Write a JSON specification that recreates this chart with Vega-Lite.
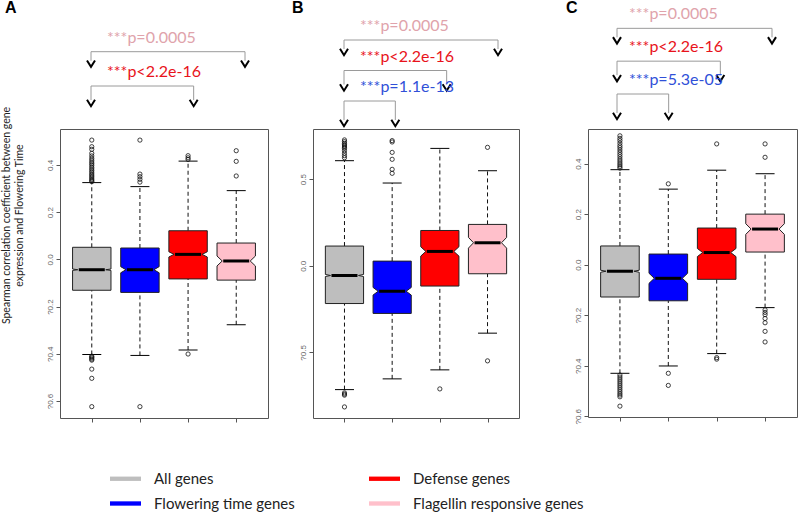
{
  "$schema": "https://vega.github.io/schema/vega-lite/v6.json",
  "background": "white",
  "padding": 0,
  "config": {
    "view": {"stroke": null},
    "axis": {"grid": false, "domain": false, "labelFont": "Liberation Sans", "labelFontSize": 8, "labelColor": "#666666", "tickColor": "#555555", "tickSize": 4, "labelPadding": 2}
  },
  "datasets": {
    "boxes": [
      {"panel": "A", "g": "All genes", "lo": -0.403, "q1": -0.131, "nlo": -0.047, "med": -0.044, "nhi": -0.041, "q3": 0.051, "hi": 0.325},
      {"panel": "A", "g": "Flowering time genes", "lo": -0.407, "q1": -0.140, "nlo": -0.057, "med": -0.044, "nhi": -0.031, "q3": 0.048, "hi": 0.308},
      {"panel": "A", "g": "Defense genes", "lo": -0.384, "q1": -0.083, "nlo": 0.010, "med": 0.021, "nhi": 0.032, "q3": 0.121, "hi": 0.416},
      {"panel": "A", "g": "Flagellin responsive genes", "lo": -0.277, "q1": -0.088, "nlo": -0.028, "med": -0.007, "nhi": 0.014, "q3": 0.069, "hi": 0.291},
      {"panel": "B", "g": "All genes", "lo": -0.715, "q1": -0.218, "nlo": -0.062, "med": -0.056, "nhi": -0.050, "q3": 0.114, "hi": 0.607},
      {"panel": "B", "g": "Flowering time genes", "lo": -0.653, "q1": -0.275, "nlo": -0.169, "med": -0.147, "nhi": -0.125, "q3": 0.027, "hi": 0.478},
      {"panel": "B", "g": "Defense genes", "lo": -0.601, "q1": -0.117, "nlo": 0.056, "med": 0.083, "nhi": 0.110, "q3": 0.204, "hi": 0.678},
      {"panel": "B", "g": "Flagellin responsive genes", "lo": -0.389, "q1": -0.046, "nlo": 0.102, "med": 0.133, "nhi": 0.164, "q3": 0.239, "hi": 0.549},
      {"panel": "C", "g": "All genes", "lo": -0.430, "q1": -0.128, "nlo": -0.030, "med": -0.026, "nhi": -0.022, "q3": 0.074, "hi": 0.376},
      {"panel": "C", "g": "Flowering time genes", "lo": -0.401, "q1": -0.143, "nlo": -0.074, "med": -0.054, "nhi": -0.034, "q3": 0.042, "hi": 0.299},
      {"panel": "C", "g": "Defense genes", "lo": -0.352, "q1": -0.058, "nlo": 0.032, "med": 0.048, "nhi": 0.064, "q3": 0.145, "hi": 0.374},
      {"panel": "C", "g": "Flagellin responsive genes", "lo": -0.170, "q1": 0.050, "nlo": 0.120, "med": 0.141, "nhi": 0.162, "q3": 0.200, "hi": 0.360}
    ],
    "outliers": [
      {"panel": "A", "g": "All genes", "v": 0.505}, {"panel": "A", "g": "All genes", "v": 0.477}, {"panel": "A", "g": "All genes", "v": 0.466}, {"panel": "A", "g": "All genes", "v": 0.449}, {"panel": "A", "g": "All genes", "v": 0.438}, {"panel": "A", "g": "All genes", "v": 0.428}, {"panel": "A", "g": "All genes", "v": 0.42}, {"panel": "A", "g": "All genes", "v": 0.412}, {"panel": "A", "g": "All genes", "v": 0.405}, {"panel": "A", "g": "All genes", "v": 0.398}, {"panel": "A", "g": "All genes", "v": 0.39}, {"panel": "A", "g": "All genes", "v": 0.383}, {"panel": "A", "g": "All genes", "v": 0.376}, {"panel": "A", "g": "All genes", "v": 0.369}, {"panel": "A", "g": "All genes", "v": 0.362}, {"panel": "A", "g": "All genes", "v": 0.356}, {"panel": "A", "g": "All genes", "v": 0.35}, {"panel": "A", "g": "All genes", "v": 0.344}, {"panel": "A", "g": "All genes", "v": 0.338}, {"panel": "A", "g": "All genes", "v": 0.333}, {"panel": "A", "g": "All genes", "v": 0.329},
      {"panel": "A", "g": "All genes", "v": -0.41}, {"panel": "A", "g": "All genes", "v": -0.414}, {"panel": "A", "g": "All genes", "v": -0.418}, {"panel": "A", "g": "All genes", "v": -0.423}, {"panel": "A", "g": "All genes", "v": -0.427}, {"panel": "A", "g": "All genes", "v": -0.465}, {"panel": "A", "g": "All genes", "v": -0.504}, {"panel": "A", "g": "All genes", "v": -0.624},
      {"panel": "A", "g": "Flowering time genes", "v": 0.505}, {"panel": "A", "g": "Flowering time genes", "v": 0.361}, {"panel": "A", "g": "Flowering time genes", "v": 0.35}, {"panel": "A", "g": "Flowering time genes", "v": 0.339}, {"panel": "A", "g": "Flowering time genes", "v": 0.327}, {"panel": "A", "g": "Flowering time genes", "v": -0.624},
      {"panel": "A", "g": "Defense genes", "v": 0.439}, {"panel": "A", "g": "Defense genes", "v": 0.43}, {"panel": "A", "g": "Defense genes", "v": 0.423}, {"panel": "A", "g": "Defense genes", "v": -0.401},
      {"panel": "A", "g": "Flagellin responsive genes", "v": 0.46}, {"panel": "A", "g": "Flagellin responsive genes", "v": 0.415}, {"panel": "A", "g": "Flagellin responsive genes", "v": 0.353},
      {"panel": "B", "g": "All genes", "v": 0.727}, {"panel": "B", "g": "All genes", "v": 0.717}, {"panel": "B", "g": "All genes", "v": 0.707}, {"panel": "B", "g": "All genes", "v": 0.699}, {"panel": "B", "g": "All genes", "v": 0.692}, {"panel": "B", "g": "All genes", "v": 0.685}, {"panel": "B", "g": "All genes", "v": 0.678}, {"panel": "B", "g": "All genes", "v": 0.665}, {"panel": "B", "g": "All genes", "v": 0.65}, {"panel": "B", "g": "All genes", "v": 0.636}, {"panel": "B", "g": "All genes", "v": 0.624}, {"panel": "B", "g": "All genes", "v": -0.734}, {"panel": "B", "g": "All genes", "v": -0.741}, {"panel": "B", "g": "All genes", "v": -0.747}, {"panel": "B", "g": "All genes", "v": -0.815},
      {"panel": "B", "g": "Flowering time genes", "v": 0.723}, {"panel": "B", "g": "Flowering time genes", "v": 0.715}, {"panel": "B", "g": "Flowering time genes", "v": 0.655}, {"panel": "B", "g": "Flowering time genes", "v": 0.615}, {"panel": "B", "g": "Flowering time genes", "v": 0.557}, {"panel": "B", "g": "Flowering time genes", "v": 0.534},
      {"panel": "B", "g": "Defense genes", "v": -0.711},
      {"panel": "B", "g": "Flagellin responsive genes", "v": 0.684}, {"panel": "B", "g": "Flagellin responsive genes", "v": -0.549},
      {"panel": "C", "g": "All genes", "v": 0.51}, {"panel": "C", "g": "All genes", "v": 0.5}, {"panel": "C", "g": "All genes", "v": 0.491}, {"panel": "C", "g": "All genes", "v": 0.481}, {"panel": "C", "g": "All genes", "v": 0.471}, {"panel": "C", "g": "All genes", "v": 0.463}, {"panel": "C", "g": "All genes", "v": 0.454}, {"panel": "C", "g": "All genes", "v": 0.445}, {"panel": "C", "g": "All genes", "v": 0.436}, {"panel": "C", "g": "All genes", "v": 0.427}, {"panel": "C", "g": "All genes", "v": 0.418}, {"panel": "C", "g": "All genes", "v": 0.41}, {"panel": "C", "g": "All genes", "v": 0.402}, {"panel": "C", "g": "All genes", "v": 0.395}, {"panel": "C", "g": "All genes", "v": 0.388}, {"panel": "C", "g": "All genes", "v": 0.382},
      {"panel": "C", "g": "All genes", "v": -0.437}, {"panel": "C", "g": "All genes", "v": -0.445}, {"panel": "C", "g": "All genes", "v": -0.453}, {"panel": "C", "g": "All genes", "v": -0.461}, {"panel": "C", "g": "All genes", "v": -0.469}, {"panel": "C", "g": "All genes", "v": -0.477}, {"panel": "C", "g": "All genes", "v": -0.485}, {"panel": "C", "g": "All genes", "v": -0.493}, {"panel": "C", "g": "All genes", "v": -0.501}, {"panel": "C", "g": "All genes", "v": -0.509}, {"panel": "C", "g": "All genes", "v": -0.516}, {"panel": "C", "g": "All genes", "v": -0.523}, {"panel": "C", "g": "All genes", "v": -0.56},
      {"panel": "C", "g": "Flowering time genes", "v": 0.32}, {"panel": "C", "g": "Flowering time genes", "v": -0.43}, {"panel": "C", "g": "Flowering time genes", "v": -0.478},
      {"panel": "C", "g": "Defense genes", "v": 0.478}, {"panel": "C", "g": "Defense genes", "v": -0.368}, {"panel": "C", "g": "Defense genes", "v": -0.374},
      {"panel": "C", "g": "Flagellin responsive genes", "v": 0.478}, {"panel": "C", "g": "Flagellin responsive genes", "v": 0.425}, {"panel": "C", "g": "Flagellin responsive genes", "v": -0.179}, {"panel": "C", "g": "Flagellin responsive genes", "v": -0.189}, {"panel": "C", "g": "Flagellin responsive genes", "v": -0.198}, {"panel": "C", "g": "Flagellin responsive genes", "v": -0.213}, {"panel": "C", "g": "Flagellin responsive genes", "v": -0.23}, {"panel": "C", "g": "Flagellin responsive genes", "v": -0.264}, {"panel": "C", "g": "Flagellin responsive genes", "v": -0.306}
    ],
    "ann": [
      {"panel": "A", "level": 1, "from": "All genes", "to": "Flagellin responsive genes", "label": "***p=0.0005"},
      {"panel": "A", "level": 2, "from": "All genes", "to": "Defense genes", "label": "***p<2.2e-16"},
      {"panel": "B", "level": 1, "from": "All genes", "to": "Flagellin responsive genes", "label": "***p=0.0005"},
      {"panel": "B", "level": 2, "from": "All genes", "to": "Defense genes", "label": "***p<2.2e-16"},
      {"panel": "B", "level": 3, "from": "All genes", "to": "Flowering time genes", "label": "***p=1.1e-13"},
      {"panel": "C", "level": 1, "from": "All genes", "to": "Flagellin responsive genes", "label": "***p=0.0005"},
      {"panel": "C", "level": 2, "from": "All genes", "to": "Defense genes", "label": "***p<2.2e-16"},
      {"panel": "C", "level": 3, "from": "All genes", "to": "Flowering time genes", "label": "***p=5.3e-05"}
    ]
  },
  "columns": 3,
  "spacing": {"row": 0, "column": 45},
  "bounds": "flush",
  "align": "each",
  "concat": [
    {
      "width": 208, "height": 129,
      "title": {"text": "A", "anchor": "start", "frame": "group", "offset": -16, "dx": -55, "fontSize": 16, "fontWeight": "bold", "font": "Liberation Sans", "color": "#000000"},
      "data": {"name": "ann"},
      "transform": [{"filter": "datum.panel === 'A'"}],
      "encoding": {"y": {"field": "level", "type": "quantitative", "scale": {"domain": [0, 3], "range": [17.4, 120.3], "nice": false, "zero": false}, "axis": null}},
      "layer": [
        {"mark": {"type": "rule", "color": "#9a9a9a", "strokeWidth": 1}, "encoding": {"x": {"field": "from", "type": "nominal", "scale": {"type": "point", "domain": ["All genes", "Flowering time genes", "Defense genes", "Flagellin responsive genes"], "range": [31, 185], "padding": 0}, "axis": null}, "x2": {"field": "to"}}},
        {"mark": {"type": "rule", "color": "#9a9a9a", "strokeWidth": 1, "y2Offset": {"expr": "4 + 5 * datum.level"}}, "encoding": {"x": {"field": "from", "type": "nominal", "scale": {"type": "point", "domain": ["All genes", "Flowering time genes", "Defense genes", "Flagellin responsive genes"], "range": [31, 185], "padding": 0}, "axis": null}, "y2": {"field": "level"}}},
        {"mark": {"type": "rule", "color": "#9a9a9a", "strokeWidth": 1, "y2Offset": {"expr": "4 + 5 * datum.level"}}, "encoding": {"x": {"field": "to", "type": "nominal", "scale": {"type": "point", "domain": ["All genes", "Flowering time genes", "Defense genes", "Flagellin responsive genes"], "range": [31, 185], "padding": 0}, "axis": null}, "y2": {"field": "level"}}},
        {"mark": {"type": "point", "shape": "M-1,-0.8L0,0.8L1,-0.8", "filled": false, "stroke": "#000000", "strokeWidth": 2, "size": 64, "opacity": 1, "yOffset": {"expr": "7 + 5 * datum.level"}}, "encoding": {"x": {"field": "from", "type": "nominal", "scale": {"type": "point", "domain": ["All genes", "Flowering time genes", "Defense genes", "Flagellin responsive genes"], "range": [31, 185], "padding": 0}, "axis": null}}},
        {"mark": {"type": "point", "shape": "M-1,-0.8L0,0.8L1,-0.8", "filled": false, "stroke": "#000000", "strokeWidth": 2, "size": 64, "opacity": 1, "yOffset": {"expr": "7 + 5 * datum.level"}}, "encoding": {"x": {"field": "to", "type": "nominal", "scale": {"type": "point", "domain": ["All genes", "Flowering time genes", "Defense genes", "Flagellin responsive genes"], "range": [31, 185], "padding": 0}, "axis": null}}},
        {"mark": {"type": "text", "align": "left", "baseline": "middle", "dx": 16, "dy": -14, "fontSize": 16, "font": "Lato"}, "encoding": {"x": {"field": "from", "type": "nominal", "scale": {"type": "point", "domain": ["All genes", "Flowering time genes", "Defense genes", "Flagellin responsive genes"], "range": [31, 185], "padding": 0}, "axis": null}, "text": {"field": "label"}, "color": {"field": "to", "type": "nominal", "scale": {"domain": ["Flagellin responsive genes", "Defense genes", "Flowering time genes"], "range": ["#E0A3AB", "#E8131B", "#3050D8"]}, "legend": null}}}
      ]
    },
    {
      "width": 230, "height": 129,
      "title": {"text": "B", "anchor": "start", "frame": "group", "offset": -16, "dx": -21, "fontSize": 16, "fontWeight": "bold", "font": "Liberation Sans", "color": "#000000"},
      "data": {"name": "ann"},
      "transform": [{"filter": "datum.panel === 'B'"}],
      "encoding": {"y": {"field": "level", "type": "quantitative", "scale": {"domain": [0, 3], "range": [9.5, 101], "nice": false, "zero": false}, "axis": null}},
      "layer": [
        {"mark": {"type": "rule", "color": "#9a9a9a", "strokeWidth": 1}, "encoding": {"x": {"field": "from", "type": "nominal", "scale": {"type": "point", "domain": ["All genes", "Flowering time genes", "Defense genes", "Flagellin responsive genes"], "range": [31, 185], "padding": 0}, "axis": null}, "x2": {"field": "to"}}},
        {"mark": {"type": "rule", "color": "#9a9a9a", "strokeWidth": 1, "y2Offset": {"expr": "4 + 5 * datum.level"}}, "encoding": {"x": {"field": "from", "type": "nominal", "scale": {"type": "point", "domain": ["All genes", "Flowering time genes", "Defense genes", "Flagellin responsive genes"], "range": [31, 185], "padding": 0}, "axis": null}, "y2": {"field": "level"}}},
        {"mark": {"type": "rule", "color": "#9a9a9a", "strokeWidth": 1, "y2Offset": {"expr": "4 + 5 * datum.level"}}, "encoding": {"x": {"field": "to", "type": "nominal", "scale": {"type": "point", "domain": ["All genes", "Flowering time genes", "Defense genes", "Flagellin responsive genes"], "range": [31, 185], "padding": 0}, "axis": null}, "y2": {"field": "level"}}},
        {"mark": {"type": "point", "shape": "M-1,-0.8L0,0.8L1,-0.8", "filled": false, "stroke": "#000000", "strokeWidth": 2, "size": 64, "opacity": 1, "yOffset": {"expr": "7 + 5 * datum.level"}}, "encoding": {"x": {"field": "from", "type": "nominal", "scale": {"type": "point", "domain": ["All genes", "Flowering time genes", "Defense genes", "Flagellin responsive genes"], "range": [31, 185], "padding": 0}, "axis": null}}},
        {"mark": {"type": "point", "shape": "M-1,-0.8L0,0.8L1,-0.8", "filled": false, "stroke": "#000000", "strokeWidth": 2, "size": 64, "opacity": 1, "yOffset": {"expr": "7 + 5 * datum.level"}}, "encoding": {"x": {"field": "to", "type": "nominal", "scale": {"type": "point", "domain": ["All genes", "Flowering time genes", "Defense genes", "Flagellin responsive genes"], "range": [31, 185], "padding": 0}, "axis": null}}},
        {"mark": {"type": "text", "align": "left", "baseline": "middle", "dx": 16, "dy": -14, "fontSize": 16, "font": "Lato"}, "encoding": {"x": {"field": "from", "type": "nominal", "scale": {"type": "point", "domain": ["All genes", "Flowering time genes", "Defense genes", "Flagellin responsive genes"], "range": [31, 185], "padding": 0}, "axis": null}, "text": {"field": "label"}, "color": {"field": "to", "type": "nominal", "scale": {"domain": ["Flagellin responsive genes", "Defense genes", "Flowering time genes"], "range": ["#E0A3AB", "#E8131B", "#3050D8"]}, "legend": null}}}
      ]
    },
    {
      "width": 209, "height": 129,
      "title": {"text": "C", "anchor": "start", "frame": "group", "offset": -16, "dx": -22, "fontSize": 16, "fontWeight": "bold", "font": "Liberation Sans", "color": "#000000"},
      "data": {"name": "ann"},
      "transform": [{"filter": "datum.panel === 'C'"}],
      "encoding": {"y": {"field": "level", "type": "quantitative", "scale": {"domain": [0, 3], "range": [-4.5, 94], "nice": false, "zero": false}, "axis": null}},
      "layer": [
        {"mark": {"type": "rule", "color": "#9a9a9a", "strokeWidth": 1}, "encoding": {"x": {"field": "from", "type": "nominal", "scale": {"type": "point", "domain": ["All genes", "Flowering time genes", "Defense genes", "Flagellin responsive genes"], "range": [29, 184], "padding": 0}, "axis": null}, "x2": {"field": "to"}}},
        {"mark": {"type": "rule", "color": "#9a9a9a", "strokeWidth": 1, "y2Offset": {"expr": "4 + 5 * datum.level"}}, "encoding": {"x": {"field": "from", "type": "nominal", "scale": {"type": "point", "domain": ["All genes", "Flowering time genes", "Defense genes", "Flagellin responsive genes"], "range": [29, 184], "padding": 0}, "axis": null}, "y2": {"field": "level"}}},
        {"mark": {"type": "rule", "color": "#9a9a9a", "strokeWidth": 1, "y2Offset": {"expr": "4 + 5 * datum.level"}}, "encoding": {"x": {"field": "to", "type": "nominal", "scale": {"type": "point", "domain": ["All genes", "Flowering time genes", "Defense genes", "Flagellin responsive genes"], "range": [29, 184], "padding": 0}, "axis": null}, "y2": {"field": "level"}}},
        {"mark": {"type": "point", "shape": "M-1,-0.8L0,0.8L1,-0.8", "filled": false, "stroke": "#000000", "strokeWidth": 2, "size": 64, "opacity": 1, "yOffset": {"expr": "7 + 5 * datum.level"}}, "encoding": {"x": {"field": "from", "type": "nominal", "scale": {"type": "point", "domain": ["All genes", "Flowering time genes", "Defense genes", "Flagellin responsive genes"], "range": [29, 184], "padding": 0}, "axis": null}}},
        {"mark": {"type": "point", "shape": "M-1,-0.8L0,0.8L1,-0.8", "filled": false, "stroke": "#000000", "strokeWidth": 2, "size": 64, "opacity": 1, "yOffset": {"expr": "7 + 5 * datum.level"}}, "encoding": {"x": {"field": "to", "type": "nominal", "scale": {"type": "point", "domain": ["All genes", "Flowering time genes", "Defense genes", "Flagellin responsive genes"], "range": [29, 184], "padding": 0}, "axis": null}}},
        {"mark": {"type": "text", "align": "left", "baseline": "middle", "dx": 12, "dy": -14, "fontSize": 16, "font": "Lato"}, "encoding": {"x": {"field": "from", "type": "nominal", "scale": {"type": "point", "domain": ["All genes", "Flowering time genes", "Defense genes", "Flagellin responsive genes"], "range": [29, 184], "padding": 0}, "axis": null}, "text": {"field": "label"}, "color": {"field": "to", "type": "nominal", "scale": {"domain": ["Flagellin responsive genes", "Defense genes", "Flowering time genes"], "range": ["#E0A3AB", "#E8131B", "#3050D8"]}, "legend": null}}}
      ]
    },
    {
      "width": 208, "height": 289,
      "view": {"stroke": "#555555", "strokeWidth": 1},
      "data": {"name": "boxes"},
      "transform": [{"filter": "datum.panel === 'A'"}],
      "layer": [
        {"mark": {"type": "rule", "color": "#111111", "strokeWidth": 1, "strokeDash": [4, 3]},
         "encoding": {
           "x": {"field": "g", "type": "nominal", "scale": {"type": "point", "domain": ["All genes", "Flowering time genes", "Defense genes", "Flagellin responsive genes"], "padding": 0.66}, "axis": {"labels": false, "title": null, "domain": false, "ticks": true}},
           "y": {"field": "q3", "type": "quantitative", "scale": {"domain": [-0.672, 0.552], "nice": false, "zero": false},
                 "axis": {"values": [-0.6, -0.4, -0.2, 0, 0.2, 0.4], "labelExpr": "datum.value < 0 ? '?' + format(-datum.value, '.1f') : format(datum.value, '.1f')", "labelAngle": 270,
                          "title": ["Spearman correlation coefficient between gene", "expression and Flowering Time"], "titleFont": "Lato", "titleFontSize": 10.5, "titleFontWeight": "normal", "titleColor": "#222222", "titleX": -48.5, "titleY": 86, "titleLineHeight": 13}},
           "y2": {"field": "hi"}}},
        {"mark": {"type": "rule", "color": "#111111", "strokeWidth": 1, "strokeDash": [4, 3]},
         "encoding": {"x": {"field": "g", "type": "nominal", "scale": {"type": "point", "domain": ["All genes", "Flowering time genes", "Defense genes", "Flagellin responsive genes"], "padding": 0.66}}, "y": {"field": "lo", "type": "quantitative"}, "y2": {"field": "q1"}}},
        {"transform": [{"fold": ["q1", "nlo", "med", "nhi", "q3"], "as": ["k", "v"]}],
         "mark": {"type": "area", "orient": "horizontal", "stroke": "#222222", "strokeWidth": 1, "opacity": 1, "fillOpacity": 1, "xOffset": {"expr": "datum.k === 'med' ? -14 : -19.2"}, "x2Offset": {"expr": "datum.k === 'med' ? 14 : 19.2"}},
         "encoding": {
           "x": {"field": "g", "type": "nominal", "scale": {"type": "point", "domain": ["All genes", "Flowering time genes", "Defense genes", "Flagellin responsive genes"], "padding": 0.66}},
           "x2": {"field": "g"},
           "y": {"field": "v", "type": "quantitative", "stack": null},
           "detail": {"field": "g"},
           "fill": {"field": "g", "type": "nominal", "scale": {"domain": ["All genes", "Flowering time genes", "Defense genes", "Flagellin responsive genes"], "range": ["#BEBEBE", "#0000FF", "#FF0000", "#FFC0CB"]},
                    "legend": {"orient": "none", "legendX": 50, "legendY": 463, "columns": 2, "title": null, "symbolType": "M-1,-0.14H1V0.14H-1Z", "symbolSize": 961, "symbolStrokeWidth": 0, "symbolOpacity": 1, "labelFontSize": 15, "labelFont": "Lato", "labelColor": "#222222", "columnPadding": 74, "rowPadding": 1, "labelOffset": 13, "labelLimit": 400}}}},
        {"mark": {"type": "tick", "color": "#000000", "thickness": 3, "size": 26, "opacity": 1},
         "encoding": {"x": {"field": "g", "type": "nominal", "scale": {"type": "point", "domain": ["All genes", "Flowering time genes", "Defense genes", "Flagellin responsive genes"], "padding": 0.66}}, "y": {"field": "med", "type": "quantitative"}}},
        {"mark": {"type": "tick", "color": "#000000", "thickness": 1, "size": 19, "opacity": 1},
         "encoding": {"x": {"field": "g", "type": "nominal", "scale": {"type": "point", "domain": ["All genes", "Flowering time genes", "Defense genes", "Flagellin responsive genes"], "padding": 0.66}}, "y": {"field": "hi", "type": "quantitative"}}},
        {"mark": {"type": "tick", "color": "#000000", "thickness": 1, "size": 19, "opacity": 1},
         "encoding": {"x": {"field": "g", "type": "nominal", "scale": {"type": "point", "domain": ["All genes", "Flowering time genes", "Defense genes", "Flagellin responsive genes"], "padding": 0.66}}, "y": {"field": "lo", "type": "quantitative"}}},
        {"data": {"name": "outliers"}, "transform": [{"filter": "datum.panel === 'A'"}],
         "mark": {"type": "point", "shape": "circle", "filled": false, "stroke": "#111111", "strokeWidth": 0.8, "size": 18, "opacity": 1},
         "encoding": {"x": {"field": "g", "type": "nominal", "scale": {"type": "point", "domain": ["All genes", "Flowering time genes", "Defense genes", "Flagellin responsive genes"], "padding": 0.66}}, "y": {"field": "v", "type": "quantitative"}}}
      ]
    },
    {
      "width": 206, "height": 289,
      "view": {"stroke": "#555555", "strokeWidth": 1},
      "data": {"name": "boxes"},
      "transform": [{"filter": "datum.panel === 'B'"}],
      "layer": [
        {"mark": {"type": "rule", "color": "#111111", "strokeWidth": 1, "strokeDash": [4, 3]},
         "encoding": {
           "x": {"field": "g", "type": "nominal", "scale": {"type": "point", "domain": ["All genes", "Flowering time genes", "Defense genes", "Flagellin responsive genes"], "padding": 0.66}, "axis": {"labels": false, "title": null, "domain": false, "ticks": true}},
           "y": {"field": "q3", "type": "quantitative", "scale": {"domain": [-0.879, 0.79], "nice": false, "zero": false},
                 "axis": {"values": [-0.5, 0, 0.5], "labelExpr": "datum.value < 0 ? '?' + format(-datum.value, '.1f') : format(datum.value, '.1f')", "labelAngle": 270, "title": null}},
           "y2": {"field": "hi"}}},
        {"mark": {"type": "rule", "color": "#111111", "strokeWidth": 1, "strokeDash": [4, 3]},
         "encoding": {"x": {"field": "g", "type": "nominal", "scale": {"type": "point", "domain": ["All genes", "Flowering time genes", "Defense genes", "Flagellin responsive genes"], "padding": 0.66}}, "y": {"field": "lo", "type": "quantitative"}, "y2": {"field": "q1"}}},
        {"transform": [{"fold": ["q1", "nlo", "med", "nhi", "q3"], "as": ["k", "v"]}],
         "mark": {"type": "area", "orient": "horizontal", "stroke": "#222222", "strokeWidth": 1, "opacity": 1, "fillOpacity": 1, "xOffset": {"expr": "datum.k === 'med' ? -14 : -19.1"}, "x2Offset": {"expr": "datum.k === 'med' ? 14 : 19.1"}},
         "encoding": {
           "x": {"field": "g", "type": "nominal", "scale": {"type": "point", "domain": ["All genes", "Flowering time genes", "Defense genes", "Flagellin responsive genes"], "padding": 0.66}},
           "x2": {"field": "g"},
           "y": {"field": "v", "type": "quantitative", "stack": null},
           "detail": {"field": "g"},
           "fill": {"field": "g", "type": "nominal", "scale": {"domain": ["All genes", "Flowering time genes", "Defense genes", "Flagellin responsive genes"], "range": ["#BEBEBE", "#0000FF", "#FF0000", "#FFC0CB"]},
                    "legend": {"orient": "none", "legendX": 50, "legendY": 463, "columns": 2, "title": null, "symbolType": "M-1,-0.14H1V0.14H-1Z", "symbolSize": 961, "symbolStrokeWidth": 0, "symbolOpacity": 1, "labelFontSize": 15, "labelFont": "Lato", "labelColor": "#222222", "columnPadding": 74, "rowPadding": 1, "labelOffset": 13, "labelLimit": 400}}}},
        {"mark": {"type": "tick", "color": "#000000", "thickness": 3, "size": 26, "opacity": 1},
         "encoding": {"x": {"field": "g", "type": "nominal", "scale": {"type": "point", "domain": ["All genes", "Flowering time genes", "Defense genes", "Flagellin responsive genes"], "padding": 0.66}}, "y": {"field": "med", "type": "quantitative"}}},
        {"mark": {"type": "tick", "color": "#000000", "thickness": 1, "size": 19, "opacity": 1},
         "encoding": {"x": {"field": "g", "type": "nominal", "scale": {"type": "point", "domain": ["All genes", "Flowering time genes", "Defense genes", "Flagellin responsive genes"], "padding": 0.66}}, "y": {"field": "hi", "type": "quantitative"}}},
        {"mark": {"type": "tick", "color": "#000000", "thickness": 1, "size": 19, "opacity": 1},
         "encoding": {"x": {"field": "g", "type": "nominal", "scale": {"type": "point", "domain": ["All genes", "Flowering time genes", "Defense genes", "Flagellin responsive genes"], "padding": 0.66}}, "y": {"field": "lo", "type": "quantitative"}}},
        {"data": {"name": "outliers"}, "transform": [{"filter": "datum.panel === 'B'"}],
         "mark": {"type": "point", "shape": "circle", "filled": false, "stroke": "#111111", "strokeWidth": 0.8, "size": 18, "opacity": 1},
         "encoding": {"x": {"field": "g", "type": "nominal", "scale": {"type": "point", "domain": ["All genes", "Flowering time genes", "Defense genes", "Flagellin responsive genes"], "padding": 0.66}}, "y": {"field": "v", "type": "quantitative"}}}
      ]
    },
    {
      "width": 209, "height": 288,
      "view": {"stroke": "#555555", "strokeWidth": 1},
      "data": {"name": "boxes"},
      "transform": [{"filter": "datum.panel === 'C'"}],
      "layer": [
        {"mark": {"type": "rule", "color": "#111111", "strokeWidth": 1, "strokeDash": [4, 3]},
         "encoding": {
           "x": {"field": "g", "type": "nominal", "scale": {"type": "point", "domain": ["All genes", "Flowering time genes", "Defense genes", "Flagellin responsive genes"], "padding": 0.66}, "axis": {"labels": false, "title": null, "domain": false, "ticks": true}},
           "y": {"field": "q3", "type": "quantitative", "scale": {"domain": [-0.603, 0.537], "nice": false, "zero": false},
                 "axis": {"values": [-0.6, -0.4, -0.2, 0, 0.2, 0.4], "labelExpr": "datum.value < 0 ? '?' + format(-datum.value, '.1f') : format(datum.value, '.1f')", "labelAngle": 270, "title": null}},
           "y2": {"field": "hi"}}},
        {"mark": {"type": "rule", "color": "#111111", "strokeWidth": 1, "strokeDash": [4, 3]},
         "encoding": {"x": {"field": "g", "type": "nominal", "scale": {"type": "point", "domain": ["All genes", "Flowering time genes", "Defense genes", "Flagellin responsive genes"], "padding": 0.66}}, "y": {"field": "lo", "type": "quantitative"}, "y2": {"field": "q1"}}},
        {"transform": [{"fold": ["q1", "nlo", "med", "nhi", "q3"], "as": ["k", "v"]}],
         "mark": {"type": "area", "orient": "horizontal", "stroke": "#222222", "strokeWidth": 1, "opacity": 1, "fillOpacity": 1, "xOffset": {"expr": "datum.k === 'med' ? -14 : -19.3"}, "x2Offset": {"expr": "datum.k === 'med' ? 14 : 19.3"}},
         "encoding": {
           "x": {"field": "g", "type": "nominal", "scale": {"type": "point", "domain": ["All genes", "Flowering time genes", "Defense genes", "Flagellin responsive genes"], "padding": 0.66}},
           "x2": {"field": "g"},
           "y": {"field": "v", "type": "quantitative", "stack": null},
           "detail": {"field": "g"},
           "fill": {"field": "g", "type": "nominal", "scale": {"domain": ["All genes", "Flowering time genes", "Defense genes", "Flagellin responsive genes"], "range": ["#BEBEBE", "#0000FF", "#FF0000", "#FFC0CB"]},
                    "legend": {"orient": "none", "legendX": 50, "legendY": 463, "columns": 2, "title": null, "symbolType": "M-1,-0.14H1V0.14H-1Z", "symbolSize": 961, "symbolStrokeWidth": 0, "symbolOpacity": 1, "labelFontSize": 15, "labelFont": "Lato", "labelColor": "#222222", "columnPadding": 74, "rowPadding": 1, "labelOffset": 13, "labelLimit": 400}}}},
        {"mark": {"type": "tick", "color": "#000000", "thickness": 3, "size": 26, "opacity": 1},
         "encoding": {"x": {"field": "g", "type": "nominal", "scale": {"type": "point", "domain": ["All genes", "Flowering time genes", "Defense genes", "Flagellin responsive genes"], "padding": 0.66}}, "y": {"field": "med", "type": "quantitative"}}},
        {"mark": {"type": "tick", "color": "#000000", "thickness": 1, "size": 19, "opacity": 1},
         "encoding": {"x": {"field": "g", "type": "nominal", "scale": {"type": "point", "domain": ["All genes", "Flowering time genes", "Defense genes", "Flagellin responsive genes"], "padding": 0.66}}, "y": {"field": "hi", "type": "quantitative"}}},
        {"mark": {"type": "tick", "color": "#000000", "thickness": 1, "size": 19, "opacity": 1},
         "encoding": {"x": {"field": "g", "type": "nominal", "scale": {"type": "point", "domain": ["All genes", "Flowering time genes", "Defense genes", "Flagellin responsive genes"], "padding": 0.66}}, "y": {"field": "lo", "type": "quantitative"}}},
        {"data": {"name": "outliers"}, "transform": [{"filter": "datum.panel === 'C'"}],
         "mark": {"type": "point", "shape": "circle", "filled": false, "stroke": "#111111", "strokeWidth": 0.8, "size": 18, "opacity": 1},
         "encoding": {"x": {"field": "g", "type": "nominal", "scale": {"type": "point", "domain": ["All genes", "Flowering time genes", "Defense genes", "Flagellin responsive genes"], "padding": 0.66}}, "y": {"field": "v", "type": "quantitative"}}}
      ]
    }
  ]
}
